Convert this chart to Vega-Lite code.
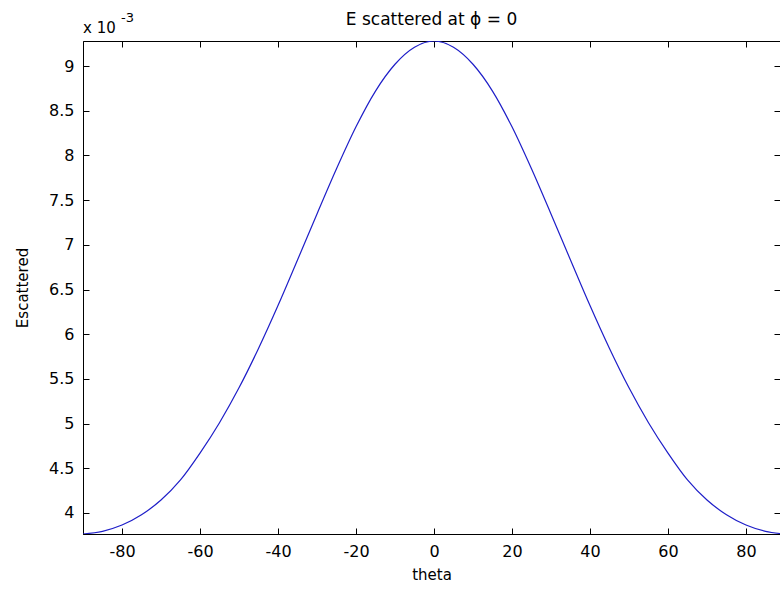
{
  "$schema": "https://vega.github.io/schema/vega-lite/v6.json",
  "autosize": "none",
  "padding": {"left": 83, "top": 41, "right": 0, "bottom": 56},
  "width": 697,
  "height": 493,
  "background": "white",
  "title": {"text": "E scattered at ϕ = 0", "font": "DejaVu Sans", "fontSize": 17, "fontWeight": "normal", "color": "black", "anchor": "middle", "offset": -17},
  "config": {
    "view": {"stroke": "black", "strokeWidth": 1},
    "axis": {"domainColor": "black", "tickColor": "black", "labelColor": "black", "titleColor": "black", "labelFont": "DejaVu Sans", "titleFont": "DejaVu Sans", "labelFontSize": 16, "titleFontSize": 15, "titleFontWeight": "normal", "grid": false, "tickSize": -6, "domain": true}
  },
  "data": {"values": [
    {"theta": -90, "E": 0.003765}, {"theta": -85, "E": 0.003795}, {"theta": -80, "E": 0.003865}, {"theta": -75, "E": 0.00398},
    {"theta": -70, "E": 0.004145}, {"theta": -65, "E": 0.00437}, {"theta": -60, "E": 0.00467}, {"theta": -55, "E": 0.00501},
    {"theta": -50, "E": 0.0054}, {"theta": -45, "E": 0.00584}, {"theta": -40, "E": 0.00632}, {"theta": -35, "E": 0.00683},
    {"theta": -30, "E": 0.007345}, {"theta": -25, "E": 0.00785}, {"theta": -20, "E": 0.00832}, {"theta": -15, "E": 0.00872},
    {"theta": -10, "E": 0.00902}, {"theta": -5, "E": 0.00921}, {"theta": 0, "E": 0.00928}, {"theta": 5, "E": 0.00921},
    {"theta": 10, "E": 0.00902}, {"theta": 15, "E": 0.00872}, {"theta": 20, "E": 0.00832}, {"theta": 25, "E": 0.00785},
    {"theta": 30, "E": 0.007345}, {"theta": 35, "E": 0.00683}, {"theta": 40, "E": 0.00632}, {"theta": 45, "E": 0.00584},
    {"theta": 50, "E": 0.0054}, {"theta": 55, "E": 0.00501}, {"theta": 60, "E": 0.00467}, {"theta": 65, "E": 0.00437},
    {"theta": 70, "E": 0.004145}, {"theta": 75, "E": 0.00398}, {"theta": 80, "E": 0.003865}, {"theta": 85, "E": 0.003795},
    {"theta": 90, "E": 0.003765}
  ]},
  "layer": [
    {
      "mark": {"type": "line", "clip": true, "color": "#1e1ec8", "strokeWidth": 1.2, "interpolate": "monotone"},
      "encoding": {
        "x": {"field": "theta", "type": "quantitative", "scale": {"domain": [-90, 88.72], "nice": false, "zero": false},
              "axis": {"orient": "bottom", "values": [-80, -60, -40, -20, 0, 20, 40, 60, 80], "labelExpr": "(datum.value < 0 ? '-' : '') + abs(datum.value)", "title": "theta", "labelPadding": 15, "titlePadding": 8}},
        "y": {"field": "E", "type": "quantitative", "scale": {"domain": [0.003765, 0.00928], "nice": false, "zero": false},
              "axis": {"orient": "left", "values": [0.004, 0.0045, 0.005, 0.0055, 0.006, 0.0065, 0.007, 0.0075, 0.008, 0.0085, 0.009],
                       "labelExpr": "format(datum.value * 1000, '.1~f')", "title": "Escattered", "labelPadding": 15, "titlePadding": 18}}
      }
    },
    {
      "mark": {"type": "line", "clip": true, "opacity": 0},
      "encoding": {
        "x": {"field": "theta", "type": "quantitative", "axis": {"orient": "top", "values": [-80, -60, -40, -20, 0, 20, 40, 60, 80], "labels": false, "title": null, "domain": false}},
        "y": {"field": "E", "type": "quantitative", "axis": {"orient": "right", "values": [0.004, 0.0045, 0.005, 0.0055, 0.006, 0.0065, 0.007, 0.0075, 0.008, 0.0085, 0.009], "labels": false, "title": null, "domain": false}}
      }
    },
    {
      "data": {"values": [{"t": "x 10"}]},
      "mark": {"type": "text", "align": "left", "baseline": "alphabetic", "dy": -8, "font": "DejaVu Sans", "fontSize": 15, "color": "black"},
      "encoding": {
        "x": {"datum": -90, "type": "quantitative", "axis": null},
        "y": {"datum": 0.00928, "type": "quantitative", "axis": null},
        "text": {"field": "t"}
      }
    },
    {
      "data": {"values": [{"t": "-3"}]},
      "mark": {"type": "text", "align": "left", "baseline": "alphabetic", "dx": 38, "dy": -19, "font": "DejaVu Sans", "fontSize": 13, "color": "black"},
      "encoding": {
        "x": {"datum": -90, "type": "quantitative", "axis": null},
        "y": {"datum": 0.00928, "type": "quantitative", "axis": null},
        "text": {"field": "t"}
      }
    }
  ],
  "resolve": {"axis": {"x": "independent", "y": "independent"}}
}
